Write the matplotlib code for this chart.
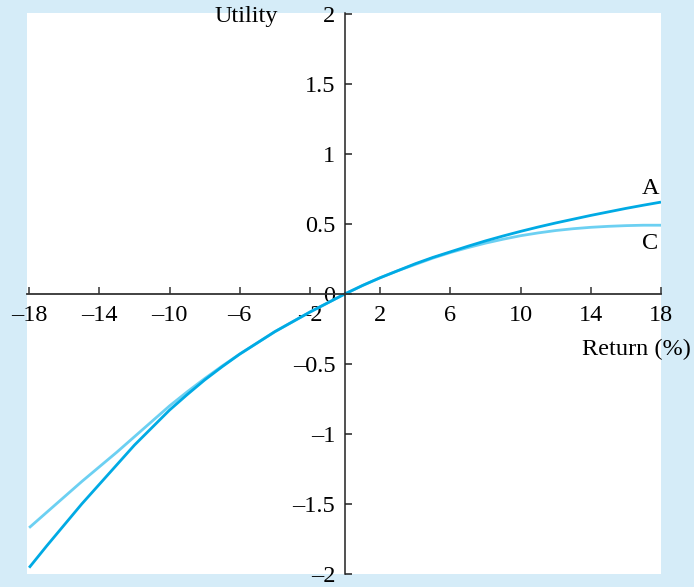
import matplotlib
matplotlib.use("Agg")
import matplotlib.pyplot as plt
from matplotlib.ticker import FixedLocator, FixedFormatter

# returns (%) and utilities
ret = list(range(-18, 19))
util_a = [-1.955, -1.80, -1.65, -1.50, -1.36, -1.22, -1.08, -0.955, -0.83, -0.72,
          -0.615, -0.52, -0.43, -0.35, -0.27, -0.20, -0.13, -0.065, 0.0,
          0.06, 0.115, 0.165, 0.215, 0.26, 0.30, 0.34, 0.378, 0.413, 0.446,
          0.477, 0.506, 0.533, 0.56, 0.585, 0.61, 0.633, 0.655]
util_c = [-1.67, -1.56, -1.45, -1.34, -1.235, -1.13, -1.02, -0.91, -0.80, -0.70,
          -0.605, -0.515, -0.43, -0.35, -0.27, -0.20, -0.13, -0.065, 0.0,
          0.06, 0.115, 0.165, 0.21, 0.255, 0.295, 0.33, 0.362, 0.39, 0.415,
          0.435, 0.452, 0.465, 0.475, 0.482, 0.487, 0.49, 0.49]

xticks = [-18, -14, -10, -6, -2, 2, 6, 10, 14, 18]
xlabels = ["\u201318", "\u201314", "\u201310", "\u20136", "\u20132", "2", "6", "10", "14", "18"]
yticks = [-2, -1.5, -1, -0.5, 0, 0.5, 1, 1.5, 2]
ylabels = ["\u20132", "\u20131.5", "\u20131", "\u20130.5", "0", "0.5", "1", "1.5", "2"]

plt.rcParams["font.family"] = ["Liberation Serif", "DejaVu Serif"]
fs = 17.5

fig = plt.figure(figsize=(6.94, 5.87), dpi=100)
fig.patch.set_facecolor("#d5ecf8")
ax = fig.add_axes([27 / 694, 13 / 587, 634 / 694, 561 / 587])
ax.set_facecolor("white")

ax.plot(ret, util_c, color="#6cd0f2", lw=2.0, solid_capstyle="butt")
ax.plot(ret, util_a, color="#00aae4", lw=2.0, solid_capstyle="butt")

ax.set_xlim(-18.12, 18.0)
ax.set_ylim(-2.0, 2.005)

for s in ["top", "right"]:
    ax.spines[s].set_visible(False)
ax.spines["left"].set_position(("data", 0))
ax.spines["bottom"].set_position(("data", 0))
ax.spines["left"].set_color("#222222")
ax.spines["bottom"].set_color("#333333")
ax.spines["left"].set_linewidth(1.1)
ax.spines["bottom"].set_linewidth(1.3)

ax.xaxis.set_major_locator(FixedLocator(xticks))
ax.xaxis.set_major_formatter(FixedFormatter(xlabels))
ax.yaxis.set_major_locator(FixedLocator(yticks))
ax.yaxis.set_major_formatter(FixedFormatter(ylabels))
ax.tick_params(axis="x", direction="in", length=5, width=1.1, pad=8,
               labelsize=fs, color="#333333")
ax.tick_params(axis="y", direction="in", length=5, width=1.1, pad=7,
               labelsize=fs, color="#222222")

ax.text(-3.8, 1.98, "Utility", ha="right", va="center", fontsize=fs)
ax.text(19.7, -0.40, "Return (%)", ha="right", va="center", fontsize=fs,
        clip_on=False)
ax.text(17.4, 0.75, "A", ha="center", va="center", fontsize=fs)
ax.text(17.4, 0.36, "C", ha="center", va="center", fontsize=fs)

fig.savefig("out.png", dpi=100, facecolor=fig.get_facecolor())
